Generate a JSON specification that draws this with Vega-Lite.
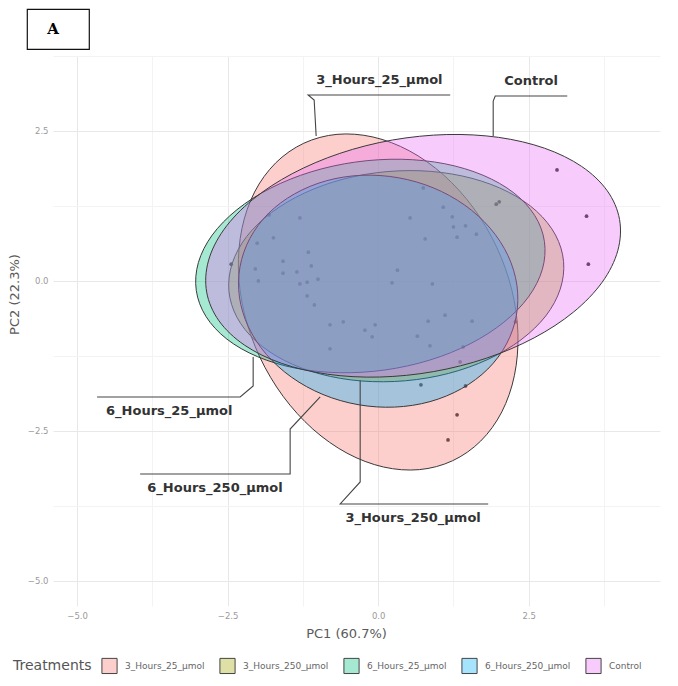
{
"$schema": "https://vega.github.io/schema/vega-lite/v6.json",
"padding": {"left": 8, "top": 8, "right": 5, "bottom": 5},
"spacing": 0,
"datasets": {
"points": [
{"x":2.97,"y":1.85},{"x":3.46,"y":1.08},{"x":3.49,"y":0.28},{"x":1.96,"y":1.28},{"x":2.01,"y":1.32},
{"x":0.75,"y":1.55},{"x":1.08,"y":1.23},{"x":0.53,"y":1.05},{"x":1.23,"y":1.07},{"x":1.25,"y":0.90},
{"x":1.45,"y":0.92},{"x":1.31,"y":0.73},{"x":1.63,"y":0.78},{"x":0.78,"y":0.70},{"x":-1.81,"y":1.10},
{"x":-2.44,"y":0.28},{"x":-1.30,"y":1.05},{"x":-1.74,"y":0.72},{"x":-2.01,"y":0.63},{"x":-1.16,"y":0.48},
{"x":-1.58,"y":0.33},{"x":-2.04,"y":0.20},{"x":-1.58,"y":0.13},{"x":-1.35,"y":0.15},{"x":-1.11,"y":0.25},
{"x":-1.99,"y":0.00},{"x":-1.30,"y":-0.05},{"x":-1.18,"y":-0.02},{"x":-1.00,"y":0.03},{"x":-1.18,"y":-0.25},
{"x":-1.06,"y":-0.40},{"x":0.32,"y":0.18},{"x":0.23,"y":-0.03},{"x":0.90,"y":-0.05},{"x":-0.80,"y":-0.73},
{"x":-0.58,"y":-0.68},{"x":-0.22,"y":-0.82},{"x":-0.05,"y":-0.73},{"x":-0.10,"y":-0.93},{"x":0.83,"y":-0.67},
{"x":1.11,"y":-0.57},{"x":1.56,"y":-0.67},{"x":0.65,"y":-0.92},{"x":0.86,"y":-1.08},{"x":1.41,"y":-1.10},
{"x":2.28,"y":-0.68},{"x":1.36,"y":-1.35},{"x":0.71,"y":-1.73},{"x":1.45,"y":-1.75},{"x":1.31,"y":-2.23},
{"x":1.16,"y":-2.65},{"x":-0.80,"y":-1.13}
],
"ellipses": [
{"group":"3_Hours_25_µmol","i":0,"x":-1.235,"y":2.296},{"group":"3_Hours_25_µmol","i":1,"x":-1.702,"y":1.968},{"group":"3_Hours_25_µmol","i":2,"x":-2.053,"y":1.482},{"group":"3_Hours_25_µmol","i":3,"x":-2.263,"y":0.872},{"group":"3_Hours_25_µmol","i":4,"x":-2.321,"y":0.178},{"group":"3_Hours_25_µmol","i":5,"x":-2.219,"y":-0.552},{"group":"3_Hours_25_µmol","i":6,"x":-1.966,"y":-1.268},{"group":"3_Hours_25_µmol","i":7,"x":-1.579,"y":-1.922},{"group":"3_Hours_25_µmol","i":8,"x":-1.085,"y":-2.468},{"group":"3_Hours_25_µmol","i":9,"x":-0.517,"y":-2.870},{"group":"3_Hours_25_µmol","i":10,"x":0.087,"y":-3.100},{"group":"3_Hours_25_µmol","i":11,"x":0.684,"y":-3.144},{"group":"3_Hours_25_µmol","i":12,"x":1.235,"y":-2.996},{"group":"3_Hours_25_µmol","i":13,"x":1.702,"y":-2.668},{"group":"3_Hours_25_µmol","i":14,"x":2.053,"y":-2.182},{"group":"3_Hours_25_µmol","i":15,"x":2.263,"y":-1.572},{"group":"3_Hours_25_µmol","i":16,"x":2.321,"y":-0.878},{"group":"3_Hours_25_µmol","i":17,"x":2.219,"y":-0.148},{"group":"3_Hours_25_µmol","i":18,"x":1.966,"y":0.568},{"group":"3_Hours_25_µmol","i":19,"x":1.579,"y":1.222},{"group":"3_Hours_25_µmol","i":20,"x":1.085,"y":1.768},{"group":"3_Hours_25_µmol","i":21,"x":0.517,"y":2.170},{"group":"3_Hours_25_µmol","i":22,"x":-0.087,"y":2.400},{"group":"3_Hours_25_µmol","i":23,"x":-0.684,"y":2.444},
{"group":"3_Hours_250_µmol","i":0,"x":3.079,"y":0.323},{"group":"3_Hours_250_µmol","i":1,"x":2.945,"y":0.766},{"group":"3_Hours_250_µmol","i":2,"x":2.631,"y":1.162},{"group":"3_Hours_250_µmol","i":3,"x":2.158,"y":1.484},{"group":"3_Hours_250_µmol","i":4,"x":1.558,"y":1.711},{"group":"3_Hours_250_µmol","i":5,"x":0.873,"y":1.827},{"group":"3_Hours_250_µmol","i":6,"x":0.148,"y":1.823},{"group":"3_Hours_250_µmol","i":7,"x":-0.567,"y":1.701},{"group":"3_Hours_250_µmol","i":8,"x":-1.222,"y":1.467},{"group":"3_Hours_250_µmol","i":9,"x":-1.772,"y":1.140},{"group":"3_Hours_250_µmol","i":10,"x":-2.183,"y":0.742},{"group":"3_Hours_250_µmol","i":11,"x":-2.423,"y":0.296},{"group":"3_Hours_250_µmol","i":12,"x":-2.479,"y":-0.163},{"group":"3_Hours_250_µmol","i":13,"x":-2.345,"y":-0.606},{"group":"3_Hours_250_µmol","i":14,"x":-2.031,"y":-1.002},{"group":"3_Hours_250_µmol","i":15,"x":-1.558,"y":-1.324},{"group":"3_Hours_250_µmol","i":16,"x":-0.958,"y":-1.551},{"group":"3_Hours_250_µmol","i":17,"x":-0.273,"y":-1.667},{"group":"3_Hours_250_µmol","i":18,"x":0.452,"y":-1.663},{"group":"3_Hours_250_µmol","i":19,"x":1.167,"y":-1.541},{"group":"3_Hours_250_µmol","i":20,"x":1.822,"y":-1.307},{"group":"3_Hours_250_µmol","i":21,"x":2.372,"y":-0.980},{"group":"3_Hours_250_µmol","i":22,"x":2.783,"y":-0.582},{"group":"3_Hours_250_µmol","i":23,"x":3.023,"y":-0.136},
{"group":"6_Hours_25_µmol","i":0,"x":2.761,"y":0.656},{"group":"6_Hours_25_µmol","i":1,"x":2.600,"y":1.091},{"group":"6_Hours_25_µmol","i":2,"x":2.252,"y":1.469},{"group":"6_Hours_25_µmol","i":3,"x":1.742,"y":1.762},{"group":"6_Hours_25_µmol","i":4,"x":1.106,"y":1.954},{"group":"6_Hours_25_µmol","i":5,"x":0.384,"y":2.029},{"group":"6_Hours_25_µmol","i":6,"x":-0.373,"y":1.983},{"group":"6_Hours_25_µmol","i":7,"x":-1.114,"y":1.819},{"group":"6_Hours_25_µmol","i":8,"x":-1.786,"y":1.548},{"group":"6_Hours_25_µmol","i":9,"x":-2.346,"y":1.188},{"group":"6_Hours_25_µmol","i":10,"x":-2.756,"y":0.765},{"group":"6_Hours_25_µmol","i":11,"x":-2.986,"y":0.307},{"group":"6_Hours_25_µmol","i":12,"x":-3.021,"y":-0.156},{"group":"6_Hours_25_µmol","i":13,"x":-2.860,"y":-0.591},{"group":"6_Hours_25_µmol","i":14,"x":-2.512,"y":-0.969},{"group":"6_Hours_25_µmol","i":15,"x":-2.002,"y":-1.262},{"group":"6_Hours_25_µmol","i":16,"x":-1.366,"y":-1.454},{"group":"6_Hours_25_µmol","i":17,"x":-0.644,"y":-1.529},{"group":"6_Hours_25_µmol","i":18,"x":0.113,"y":-1.483},{"group":"6_Hours_25_µmol","i":19,"x":0.854,"y":-1.319},{"group":"6_Hours_25_µmol","i":20,"x":1.526,"y":-1.048},{"group":"6_Hours_25_µmol","i":21,"x":2.086,"y":-0.688},{"group":"6_Hours_25_µmol","i":22,"x":2.496,"y":-0.265},{"group":"6_Hours_25_µmol","i":23,"x":2.726,"y":0.193},
{"group":"6_Hours_250_µmol","i":0,"x":2.295,"y":-0.575},{"group":"6_Hours_250_µmol","i":1,"x":2.304,"y":-0.071},{"group":"6_Hours_250_µmol","i":2,"x":2.155,"y":0.425},{"group":"6_Hours_250_µmol","i":3,"x":1.859,"y":0.881},{"group":"6_Hours_250_µmol","i":4,"x":1.437,"y":1.265},{"group":"6_Hours_250_µmol","i":5,"x":0.917,"y":1.552},{"group":"6_Hours_250_µmol","i":6,"x":0.334,"y":1.721},{"group":"6_Hours_250_µmol","i":7,"x":-0.271,"y":1.762},{"group":"6_Hours_250_µmol","i":8,"x":-0.859,"y":1.671},{"group":"6_Hours_250_µmol","i":9,"x":-1.387,"y":1.453},{"group":"6_Hours_250_µmol","i":10,"x":-1.821,"y":1.127},{"group":"6_Hours_250_µmol","i":11,"x":-2.130,"y":0.711},{"group":"6_Hours_250_µmol","i":12,"x":-2.295,"y":0.235},{"group":"6_Hours_250_µmol","i":13,"x":-2.304,"y":-0.269},{"group":"6_Hours_250_µmol","i":14,"x":-2.155,"y":-0.765},{"group":"6_Hours_250_µmol","i":15,"x":-1.859,"y":-1.221},{"group":"6_Hours_250_µmol","i":16,"x":-1.437,"y":-1.605},{"group":"6_Hours_250_µmol","i":17,"x":-0.917,"y":-1.892},{"group":"6_Hours_250_µmol","i":18,"x":-0.334,"y":-2.061},{"group":"6_Hours_250_µmol","i":19,"x":0.271,"y":-2.102},{"group":"6_Hours_250_µmol","i":20,"x":0.859,"y":-2.011},{"group":"6_Hours_250_µmol","i":21,"x":1.387,"y":-1.793},{"group":"6_Hours_250_µmol","i":22,"x":1.821,"y":-1.467},{"group":"6_Hours_250_µmol","i":23,"x":2.130,"y":-1.051},
{"group":"Control","i":0,"x":4.008,"y":1.026},{"group":"Control","i":1,"x":3.803,"y":1.505},{"group":"Control","i":2,"x":3.378,"y":1.910},{"group":"Control","i":3,"x":2.763,"y":2.213},{"group":"Control","i":4,"x":1.999,"y":2.394},{"group":"Control","i":5,"x":1.139,"y":2.441},{"group":"Control","i":6,"x":0.239,"y":2.350},{"group":"Control","i":7,"x":-0.637,"y":2.127},{"group":"Control","i":8,"x":-1.429,"y":1.788},{"group":"Control","i":9,"x":-2.085,"y":1.357},{"group":"Control","i":10,"x":-2.560,"y":0.860},{"group":"Control","i":11,"x":-2.819,"y":0.335},{"group":"Control","i":12,"x":-2.848,"y":-0.186},{"group":"Control","i":13,"x":-2.643,"y":-0.665},{"group":"Control","i":14,"x":-2.218,"y":-1.070},{"group":"Control","i":15,"x":-1.603,"y":-1.373},{"group":"Control","i":16,"x":-0.839,"y":-1.554},{"group":"Control","i":17,"x":0.021,"y":-1.601},{"group":"Control","i":18,"x":0.921,"y":-1.510},{"group":"Control","i":19,"x":1.797,"y":-1.287},{"group":"Control","i":20,"x":2.589,"y":-0.948},{"group":"Control","i":21,"x":3.245,"y":-0.517},{"group":"Control","i":22,"x":3.720,"y":-0.020},{"group":"Control","i":23,"x":3.979,"y":0.505}
],
"labels": [
{"label":"3_Hours_25_µmol","x":0.02,"y":3.35},
{"label":"Control","x":2.54,"y":3.33},
{"label":"6_Hours_25_µmol","x":-3.47,"y":-2.17},
{"label":"6_Hours_250_µmol","x":-2.71,"y":-3.45},
{"label":"3_Hours_250_µmol","x":0.58,"y":-3.95}
],
"connectors": [
{"id":"c1","i":0,"x":1.196,"y":3.10},{"id":"c1","i":1,"x":-1.163,"y":3.10},{"id":"c1","i":2,"x":-1.063,"y":3.017},{"id":"c1","i":3,"x":-1.03,"y":2.417},
{"id":"c2","i":0,"x":3.14,"y":3.083},{"id":"c2","i":1,"x":1.944,"y":3.083},{"id":"c2","i":2,"x":1.91,"y":3.0},{"id":"c2","i":3,"x":1.91,"y":2.417},
{"id":"c3","i":0,"x":-4.668,"y":-1.933},{"id":"c3","i":1,"x":-2.292,"y":-1.933},{"id":"c3","i":2,"x":-2.076,"y":-1.75},{"id":"c3","i":3,"x":-2.076,"y":-1.267},
{"id":"c4","i":0,"x":-3.953,"y":-3.217},{"id":"c4","i":1,"x":-1.462,"y":-3.217},{"id":"c4","i":2,"x":-1.462,"y":-2.467},{"id":"c4","i":3,"x":-0.963,"y":-1.933},
{"id":"c5","i":0,"x":1.827,"y":-3.717},{"id":"c5","i":1,"x":-0.631,"y":-3.717},{"id":"c5","i":2,"x":-0.299,"y":-3.35},{"id":"c5","i":3,"x":-0.299,"y":-1.66}
]
},
"vconcat": [
{
"width": 62, "height": 40,
"view": {"stroke": "#111111", "strokeWidth": 1.2},
"data": {"values": [{"label": "A"}]},
"mark": {"type": "text", "font": "DejaVu Serif", "fontWeight": "bold", "fontSize": 15, "dx": -5, "color": "#000000"},
"encoding": {"text": {"field": "label"}}
},
{"hconcat": [
{
"width": 1, "height": 1,
"view": {"stroke": null},
"data": {"values": [{"label": ""}]},
"mark": {"type": "text"},
"encoding": {"text": {"field": "label"}}
},
{
"width": 607, "height": 550,
"view": {"stroke": null},
"layer": [
{
"data": {"name": "points"},
"mark": {"type": "circle", "size": 14, "color": "#1c1c1c", "opacity": 0.9},
"encoding": {
"x": {"field": "x", "type": "quantitative", "scale": {"domain": [-5.4, 4.68], "nice": false, "zero": false},
"axis": {"title": "PC1 (60.7%)", "titleX": 293, "titlePadding": 8, "values": [-5, -3.75, -2.5, -1.25, 0, 1.25, 2.5, 3.75], "labelExpr": "datum.value % 2.5 === 0 ? format(datum.value, '.1f') : ''"}},
"y": {"field": "y", "type": "quantitative", "scale": {"domain": [-5.417, 3.75], "nice": false, "zero": false},
"axis": {"title": "PC2 (22.3%)", "titleY": 238, "titlePadding": 6, "values": [-5, -3.75, -2.5, -1.25, 0, 1.25, 2.5, 3.75], "labelExpr": "datum.value % 2.5 === 0 ? format(datum.value, '.1f') : ''"}}
}
},
{
"data": {"name": "ellipses"},
"mark": {"type": "line", "interpolate": "cardinal-closed", "stroke": "#3a3a3a", "strokeWidth": 1, "fillOpacity": 0.35},
"encoding": {
"x": {"field": "x", "type": "quantitative"},
"y": {"field": "y", "type": "quantitative"},
"order": {"field": "i", "type": "quantitative"},
"detail": {"field": "group"},
"fill": {"field": "group", "type": "nominal",
"scale": {"domain": ["3_Hours_25_µmol", "3_Hours_250_µmol", "6_Hours_25_µmol", "6_Hours_250_µmol", "Control"], "range": ["#F8766D", "#A3A500", "#00BF7D", "#00B0F6", "#E76BF3"]},
"legend": {"title": "Treatments", "orient": "none", "legendX": -14, "legendY": 648, "direction": "horizontal", "titleOrient": "left", "symbolType": "square", "symbolSize": 230, "symbolStrokeColor": "#444444", "symbolStrokeWidth": 1, "columnPadding": 12, "labelOffset": 7, "titlePadding": 9,
"encode": {"symbols": {"update": {"fillOpacity": {"value": 0.35}, "stroke": {"value": "#444444"}, "strokeWidth": {"value": 1}}}}}}
}
},
{
"data": {"name": "connectors"},
"mark": {"type": "line", "stroke": "#444444", "strokeWidth": 1.1},
"encoding": {
"x": {"field": "x", "type": "quantitative"},
"y": {"field": "y", "type": "quantitative"},
"detail": {"field": "id"},
"order": {"field": "i", "type": "quantitative"}
}
},
{
"data": {"name": "labels"},
"mark": {"type": "text", "font": "DejaVu Sans", "fontWeight": "bold", "fontSize": 13, "color": "#333333"},
"encoding": {
"x": {"field": "x", "type": "quantitative"},
"y": {"field": "y", "type": "quantitative"},
"text": {"field": "label"}
}
}
]
}
], "spacing": -20}
],
"config": {
"font": "DejaVu Sans",
"view": {"stroke": null},
"axis": {"domain": false, "ticks": false, "labelFontSize": 8.5, "labelColor": "#9a9a9a", "labelPadding": 5, "labelOverlap": false,
"titleFontSize": 13, "titleFontWeight": "normal", "titleColor": "#5a5a5a",
"gridColor": {"condition": {"test": "datum.value % 2.5 === 0", "value": "#e8e8e8"}, "value": "#f3f3f3"}, "gridWidth": 1},
"legend": {"labelFontSize": 9, "labelColor": "#666666", "titleFontSize": 14, "titleFontWeight": "normal", "titleColor": "#555555"}
}
}
